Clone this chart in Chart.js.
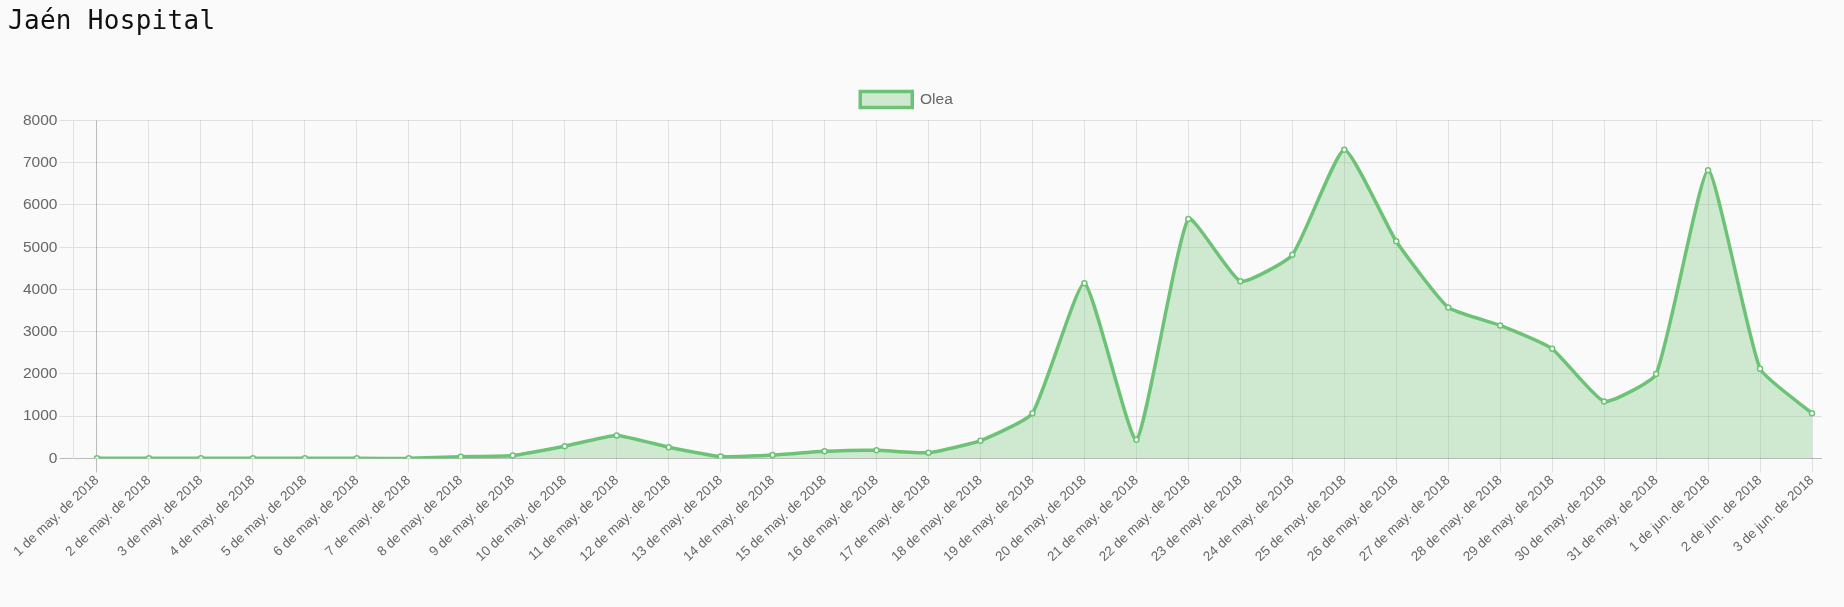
<!DOCTYPE html>
<html>
<head>
<meta charset="utf-8">
<title>Jaén Hospital</title>
<script src="https://cdn.jsdelivr.net/npm/chart.js@4.4.1/dist/chart.umd.min.js"></script>
<style>
html, body { margin: 0; padding: 0; background: #fafafa; }
#titulo {
	position: absolute; left: 8px; top: 5px; margin: 0; z-index: 2;
	font-family: "DejaVu Sans Mono", monospace; font-size: 26px; font-weight: normal;
	letter-spacing: 0.3px; color: #111;
}
#caja { position: absolute; left: 0; top: 0; width: 1844px; height: 607px; }
</style>
</head>
<body>
<h1 id="titulo">Jaén Hospital</h1>
<div id="caja"><canvas id="myChart"></canvas></div>
<script>
//fechas (eje x)
var fechas = [
	'1 de may. de 2018', '2 de may. de 2018', '3 de may. de 2018', '4 de may. de 2018',
	'5 de may. de 2018', '6 de may. de 2018', '7 de may. de 2018', '8 de may. de 2018',
	'9 de may. de 2018', '10 de may. de 2018', '11 de may. de 2018', '12 de may. de 2018',
	'13 de may. de 2018', '14 de may. de 2018', '15 de may. de 2018', '16 de may. de 2018',
	'17 de may. de 2018', '18 de may. de 2018', '19 de may. de 2018', '20 de may. de 2018',
	'21 de may. de 2018', '22 de may. de 2018', '23 de may. de 2018', '24 de may. de 2018',
	'25 de may. de 2018', '26 de may. de 2018', '27 de may. de 2018', '28 de may. de 2018',
	'29 de may. de 2018', '30 de may. de 2018', '31 de may. de 2018', '1 de jun. de 2018',
	'2 de jun. de 2018', '3 de jun. de 2018'
];
//granos de polen de Olea
var olea = [
	5, 5, 3, 2, 4, 2, 3, 40,
	70, 290, 545, 265, 45, 80, 170, 195,
	135, 420, 1070, 4150, 440, 5670, 4195, 4820,
	7310, 5140, 3575, 3150, 2595, 1350, 2000, 6820,
	2125, 1070
];
//marcas del eje y
var ejeY = { min: 0, max: 8000, paso: 1000 };

var verde = 'rgb(108, 195, 117)';
var verdeClaro = 'rgba(108, 195, 117, 0.3)';

Chart.defaults.font.family = "'Helvetica Neue', 'Helvetica', 'Arial', sans-serif";
Chart.defaults.font.size = 15.5;
Chart.defaults.color = '#666';

var colorRejilla = function(c) {
	return (c.tick && c.index === 0) ? 'rgba(0,0,0,0.25)' : 'rgba(0,0,0,0.1)';
};

//ajustes para parecerse al grafico original (v2)
var ajustes = {
	id: 'ajustes',
	afterInit: function(chart) {
		var lg = chart.legend;
		var fitOrig = lg.fit;
		lg.fit = function() {
			fitOrig.call(this);
			this.height += 3;
			this.lineWidths[0] += 30;
		};
	},
	afterLayout: function(chart) {
		var x = chart.scales.x;
		x._startPixel = x.left + 23.5;
		x._length = x.right - 10 - x._startPixel;
	}
};

var ctx = document.getElementById('myChart');
new Chart(ctx, {
	type: 'line',
	data: {
		labels: fechas,
		datasets: [{
			label: 'Olea',
			data: olea,
			borderColor: verde,
			backgroundColor: verdeClaro,
			borderWidth: 3.5,
			fill: 'origin',
			tension: 0.15,
			pointRadius: 2.5,
			pointBorderWidth: 1.5,
			pointBackgroundColor: '#fff',
			pointBorderColor: verde
		}]
	},
	options: {
		responsive: true,
		maintainAspectRatio: false,
		animation: false,
		layout: { padding: { top: 81.5, left: 21, right: 22, bottom: 42 } },
		plugins: {
			legend: {
				labels: { boxWidth: 52, boxHeight: 16, padding: 10 }
			},
			tooltip: { enabled: false }
		},
		scales: {
			x: {
				ticks: { minRotation: 43, maxRotation: 43, autoSkip: false, padding: 0, font: { size: 13.5 } },
				grid: { color: colorRejilla, tickLength: 14 },
				border: { display: false },
				afterFit: function(s) { s.paddingLeft = 0; s.paddingRight = 0; }
			},
			y: {
				min: ejeY.min,
				max: ejeY.max,
				ticks: {
					stepSize: ejeY.paso,
					padding: 2,
					callback: function(v) { return String(v); }
				},
				grid: { color: colorRejilla, tickLength: 14 },
				border: { color: 'rgba(0,0,0,0.1)' }
			}
		}
	},
	plugins: [ajustes]
});
</script>
</body>
</html>
